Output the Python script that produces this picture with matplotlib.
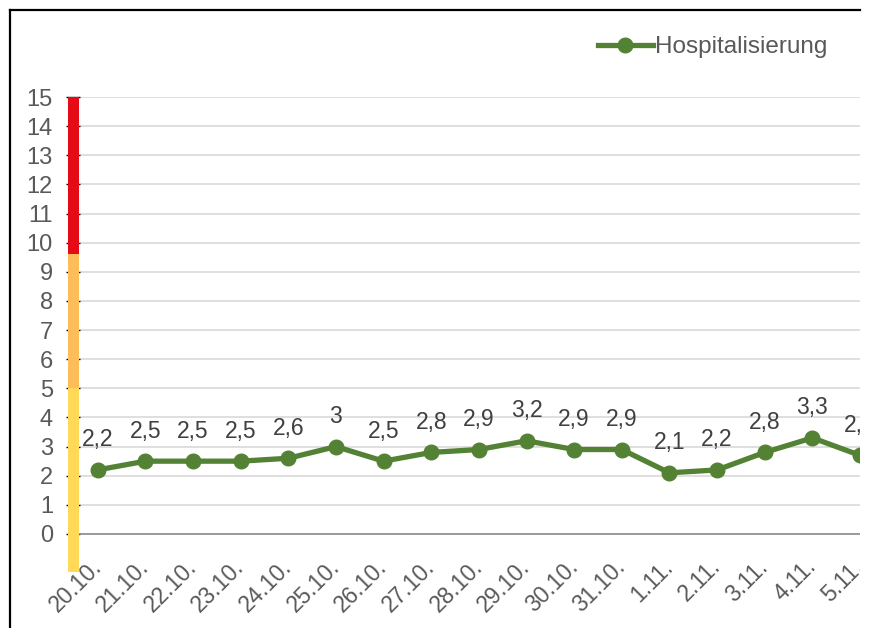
import matplotlib
matplotlib.use("Agg")
import matplotlib.pyplot as plt
from matplotlib.lines import Line2D
from matplotlib.patches import Rectangle

plt.rcParams["font.family"] = ["Liberation Sans", "DejaVu Sans"]

# ── data ──────────────────────────────────────────────────────────────────
dates = ["20.10.", "21.10.", "22.10.", "23.10.", "24.10.", "25.10.", "26.10.",
         "27.10.", "28.10.", "29.10.", "30.10.", "31.10.", "1.11.", "2.11.",
         "3.11.", "4.11.", "5.11."]
hosp = [2.2, 2.5, 2.5, 2.5, 2.6, 3.0, 2.5, 2.8, 2.9, 3.2, 2.9, 2.9, 2.1, 2.2,
        2.8, 3.3, 2.7]

# traffic-light scale next to the y axis (bottom, top)
zone_bottoms = [-1.3, 5.0, 9.6]
zone_tops = [5.0, 9.6, 15.0]
zone_colors = ["#FFD957", "#FFBD5A", "#E60A16"]

GREEN = "#548235"
GREY_TXT = "#595959"
DARK_TXT = "#404040"
FS = 16.5

W, H = 869, 628
fig = plt.figure(figsize=(W / 100, H / 100), dpi=100)
fig.patch.set_facecolor("white")

# axes box in pixels: x 80..860, y 97..534 (from top)
ax = fig.add_axes([80 / W, 1 - 534 / H, 780 / W, 437 / H])

x = list(range(len(dates)))
ax.plot(x, hosp, color=GREEN, linewidth=3.8, marker="o", markersize=10.5,
        zorder=4, label="Hospitalisierung")

for xi, v in zip(x, hosp):
    txt = f"{v:g}".replace(".", ",")
    ax.annotate(txt, (xi, v), xytext=(0, 17), textcoords="offset points",
                ha="center", va="baseline", fontsize=FS, color=DARK_TXT)

# colored scale bar left of the plot area
ax.bar([-0.51] * 3, [t - b for t, b in zip(zone_tops, zone_bottoms)],
       bottom=zone_bottoms, width=0.25, color=zone_colors, clip_on=False,
       zorder=5, linewidth=0)

ax.set_xlim(-0.373, 15.81)
ax.set_ylim(0, 15)
ax.set_yticks(range(0, 16))
ax.set_xticks(x)
ax.set_xticklabels(dates, rotation=45, ha="right", va="center",
                   rotation_mode="anchor")

ax.tick_params(axis="y", labelsize=17, labelcolor=GREY_TXT, color="black",
               length=10, width=1, pad=9.5)
ax.tick_params(axis="x", labelsize=FS, labelcolor=GREY_TXT, length=0, pad=21)

ax.grid(axis="y", color="#D9D9D9", linewidth=1.2)
ax.set_axisbelow(True)
for side in ["top", "right", "left"]:
    ax.spines[side].set_visible(False)
ax.spines["bottom"].set_color("#8C8C8C")
ax.spines["bottom"].set_linewidth(1.2)

leg = ax.legend(loc="center left", bbox_to_anchor=(598 / W, 1 - 47 / H),
                bbox_transform=fig.transFigure, frameon=False, fontsize=17.5,
                handlelength=2.25, handletextpad=0.1, borderpad=0,
                borderaxespad=0)
for t in leg.get_texts():
    t.set_color(GREY_TXT)

# chart cut off on the right: blank strip + outer frame
fig.add_artist(Rectangle((860 / W, 0), 1, 1, transform=fig.transFigure,
                         facecolor="white", edgecolor="none", zorder=20))
fig.add_artist(Line2D([10 / W, 10 / W], [0, 1 - 10 / H],
                      transform=fig.transFigure, color="black", lw=1.6,
                      zorder=21))
fig.add_artist(Line2D([10 / W, 860 / W], [1 - 10 / H, 1 - 10 / H],
                      transform=fig.transFigure, color="black", lw=1.6,
                      zorder=21))

fig.savefig("out.png", dpi=100, facecolor="white")
